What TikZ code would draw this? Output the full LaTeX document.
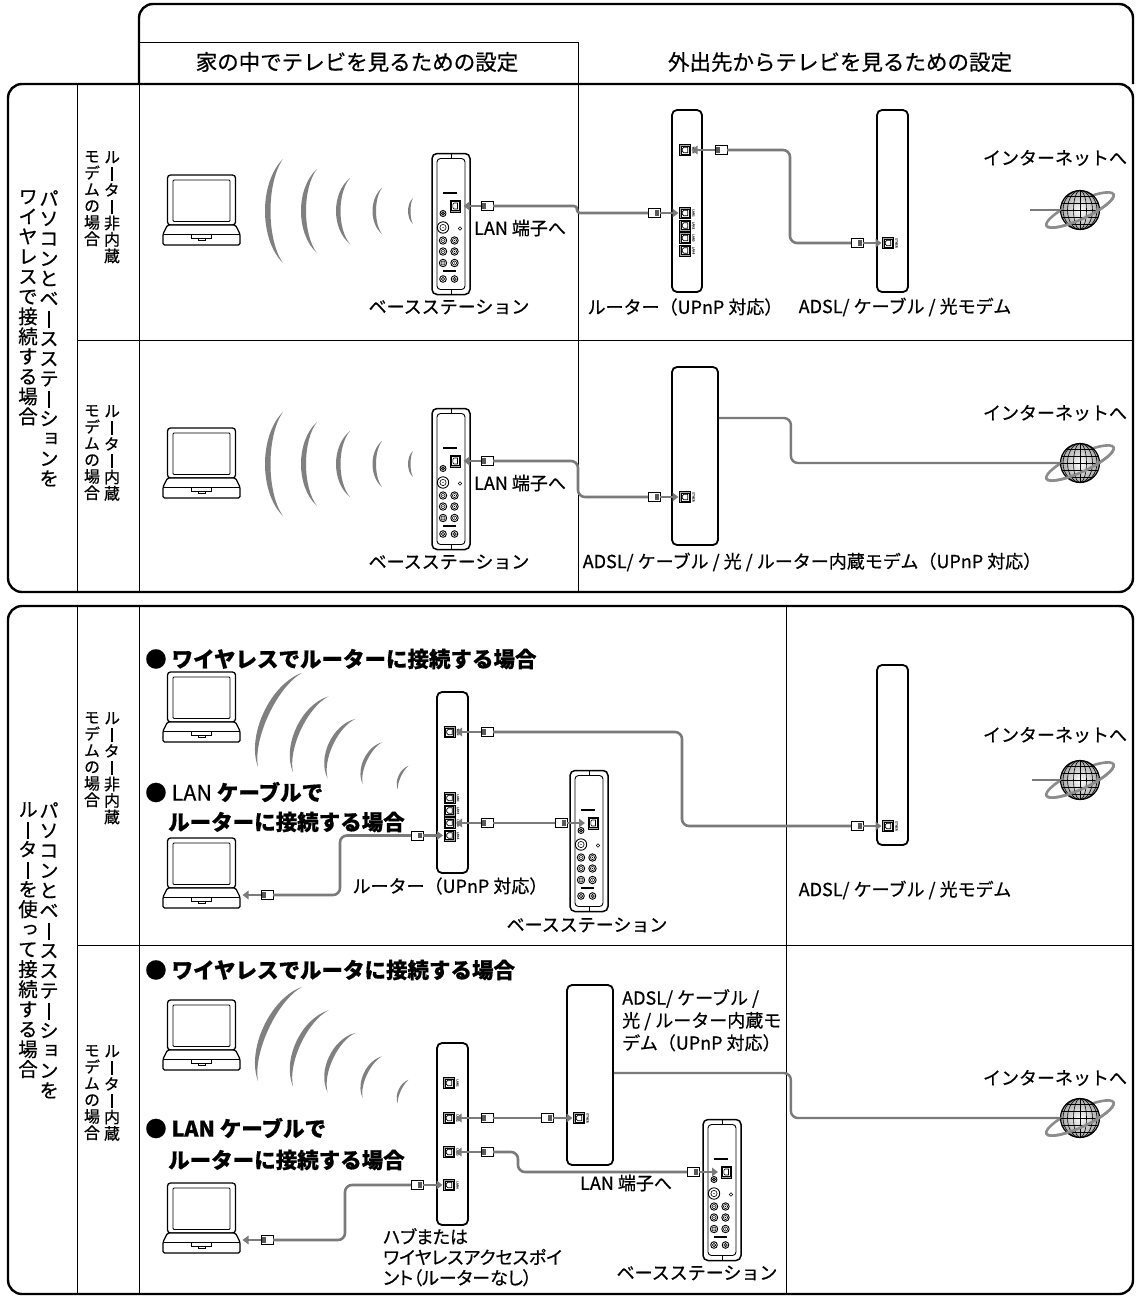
\documentclass[tikz,border=0pt]{standalone}
\usepackage{fontspec}
\setmainfont[FakeBold=0.6]{Noto Sans CJK JP}
\newfontfamily\jpv[RawFeature=+vert, FakeBold=0.6]{Noto Sans CJK JP}
\newfontfamily\jpp[RawFeature=+palt, FakeBold=0.6]{Noto Sans CJK JP}
\usetikzlibrary{arrows.meta}

\definecolor{cablegray}{gray}{0.48}
\definecolor{wavegray}{gray}{0.5}
\definecolor{ringgray}{gray}{0.55}

% upright long-vowel mark for vertical setting
\newcommand\vbar{\hbox to 1em{\hss\rule[-0.1em]{0.1em}{0.86em}\hss}}

% one character per line, for upright vertical labels
\ExplSyntaxOn
\NewDocumentCommand \vtxt { m }
  {
    \tl_clear:N \l_tmpa_tl
    \tl_map_inline:nn {#1}
      {
        \tl_if_empty:NF \l_tmpa_tl { \tl_put_right:Nn \l_tmpa_tl { \\ } }
        \str_if_eq:nnTF {##1} {ー}
          { \tl_put_right:Nn \l_tmpa_tl { \vbar } }
          { \tl_put_right:Nn \l_tmpa_tl {##1} }
      }
    \tl_use:N \l_tmpa_tl
  }
\ExplSyntaxOff

% a round jack on the base station
\newcommand\bsjack[3]{%
  \filldraw[fill=white, line width=0.9pt] (#1,#2) circle (#3);
  \draw[line width=0.6pt] (#1,#2) circle ({0.55*#3});
  \fill (#1,#2) circle (0.7);
}

\tikzset{
  frame/.style={line width=2.4pt, rounded corners=14pt},
  rule/.style={line width=0.9pt},
  lbl/.style={font=\fontsize{18}{22.5}\selectfont, inner sep=0pt},
  hdr/.style={font=\fontsize{21.5}{24}\selectfont, inner sep=0pt},
  head/.style={font=\bfseries\fontsize{21.5}{24}\selectfont, inner sep=0pt, anchor=west},
  vlab/.style={font=\jpv\fontsize{19.5}{20}\selectfont, align=center, inner sep=0pt, anchor=north},
  vsub/.style={font=\jpv\fontsize{16}{16.5}\selectfont, align=center, inner sep=0pt, anchor=north},
  devbox/.style={draw, line width=1.8pt, rounded corners=5pt, fill=white, inner sep=0pt},
  cable/.style={draw=cablegray, line width=2.6pt, rounded corners=7pt},
  wire/.style={draw=cablegray, line width=2.4pt, rounded corners=7pt},
  plugarrow/.style={draw=cablegray, line width=2.4pt, shorten >=1pt, -{Triangle[length=6pt,width=8.5pt]}},
  portlbl/.style={font=\fontsize{3}{3}\selectfont, inner sep=0pt, rotate=-90, text=black!70},
  % notebook computer, origin at its centre
  pics/laptop/.style={code={
    \draw[line width=1.3pt, rounded corners=3pt, fill=white] (-34,-35) rectangle (34,15);
    \draw[line width=0.9pt, rounded corners=1pt] (-28.5,-30) rectangle (28.5,11.5);
    \draw[line width=1.3pt, rounded corners=1.5pt, fill=white]
      (-34,15) -- (34,15) -- (38.5,24) -- (38.5,35) -- (-38.5,35) -- (-38.5,24) -- cycle;
    \draw[line width=0.8pt] (-38,24) -- (38,24);
    \draw[line width=0.8pt] (-10,24) rectangle (10,28);
    \draw[line width=0.8pt] (-3.5,28) rectangle (3.5,30.5);
    \coordinate (-e) at (40,22);
  }},
  % base station, origin at its top left corner
  pics/basestation/.style={code={
    \draw[line width=1.5pt, rounded corners=5pt, fill=white] (0,0) rectangle (38,141);
    \draw[line width=0.9pt, rounded corners=3.5pt] (5,5) rectangle (33,136);
    \draw[line width=0.9pt] (19,0) -- (19,5) (19,136) -- (19,141);
    \draw[line width=2pt] (11,39) -- (25,39);
    \filldraw[fill=black!35, line width=0.6pt] (18,46.5) rectangle (28.5,58.5);
    \filldraw[fill=white, line width=0.5pt] (19.5,48) rectangle (27,57);
    \draw[line width=0.6pt] (25.5,49.5) -- (22,49.5) -- (20.8,51) -- (20.8,54) -- (22,55.5) -- (25.5,55.5) -- cycle;
    \bsjack{11}{60}{3}
    \bsjack{11}{74}{5.7}
    \draw[line width=0.6pt] (28,75) circle (1.8);
    \bsjack{11}{87}{3.7}  \bsjack{22.5}{87}{3.7}
    \bsjack{11}{98}{3.7}  \bsjack{22.5}{98}{3.7}
    \bsjack{11}{109.5}{3.7} \bsjack{22.5}{109.5}{3.7}
    \draw[line width=2pt] (11,117.5) -- (24,117.5);
    \bsjack{11}{125.5}{3.3} \bsjack{22.5}{125.5}{3.3}
    \coordinate (-lane) at (30.5,52.5);
    \coordinate (-lanw) at (16,52.5);
  }},
  % RJ45 socket, origin at its centre
  pics/port/.style={code={
    \filldraw[fill=black!35, line width=0.6pt] (-5.5,-5.5) rectangle (5.5,5.5);
    \filldraw[fill=white, line width=0.5pt] (-4,-4) rectangle (4,4);
    \draw[line width=0.7pt] (2.8,-2.8) -- (-1,-2.8) -- (-2.8,-1) -- (-2.8,1) -- (-1,2.8) -- (2.8,2.8) -- cycle;
    \node[portlbl] at (8.5,0) {#1};
    \coordinate (-w) at (-5.5,0);
    \coordinate (-e) at (5.5,0);
  }},
  % cable plug; #1 = 1 dark end right, -1 dark end left
  pics/plug/.style={code={
    \filldraw[fill=white, line width=1pt] (-6,-4.5) rectangle (6,4.5);
    \fill[black!65] ({#1*1.2},-2.8) rectangle ({#1*4.6},2.8);
    \coordinate (-w) at (-6,0);
    \coordinate (-e) at (6,0);
  }},
  % radio wave crescent: half length, bulge, thickness
  pics/wave/.style n args={3}{code={
    \fill[wavegray] (0,-#1) .. controls ({-#2/0.75},{-0.55*#1}) and ({-#2/0.75},{0.55*#1}) .. (0,#1)
      .. controls ({-(#2-#3)/0.75},{0.55*#1}) and ({-(#2-#3)/0.75},{-0.55*#1}) .. (0,-#1) -- cycle;
  }},
  % globe with ring, origin at its centre
  pics/globe/.style={code={
    \draw[ringgray, line width=2.6pt, rotate=25] (0,0) ellipse [x radius=37, y radius=9];
    \shade[inner color=white, outer color=black!35] (0,0) circle (19.5);
    \begin{scope}
      \clip (0,0) circle (19.5);
      \draw[line width=0.6pt] (0,-20) -- (0,20);
      \foreach \r in {6.5,12.5,17}
        \draw[line width=0.6pt] (0,0) ellipse [x radius=\r, y radius=19.5];
      \foreach \yy in {-14,-7,0,7,14}
        \draw[line width=0.6pt] (-20,\yy) -- (20,\yy);
    \end{scope}
    \draw[line width=1.2pt] (0,0) circle (19.5);
    \draw[ringgray, line width=2.6pt, rotate=25] (37,0) arc [start angle=0, end angle=180, x radius=37, y radius=9];
    \coordinate (-w) at (-19.5,0);
  }},
}

\begin{document}
\begin{tikzpicture}[x=1pt,y=-1pt]
\useasboundingbox (0,0) rectangle (1136,1299);

% ---------- table frame ----------
\draw[frame] (139,84) -- (139,4) -- (1133,4) -- (1133,84);
\draw[frame] (8,84) rectangle (1133,592);
\draw[frame] (8,606) rectangle (1133,1294);

\draw[rule] (139,42) -- (578,42) -- (578,592);
\draw[rule] (139,84) -- (139,592);
\draw[rule] (77,84) -- (77,592);
\draw[rule] (77,340) -- (1133,340);
\draw[rule] (77,606) -- (77,1294);
\draw[rule] (139,606) -- (139,1294);
\draw[rule] (786,606) -- (786,1294);
\draw[rule] (77,945) -- (1133,945);

\node[hdr] (hin) at (357,62) {家の中でテレビを見るための設定};
\node[hdr] (hout) at (840,62) {外出先からテレビを見るための設定};

% ---------- row labels ----------
\node[vlab] (va1) at (49,190) {\vtxt{パソコンとベースステーションを}};
\node[vlab] (vb1) at (28,190) {\vtxt{ワイヤレスで接続する場合}};
\node[vsub] (sa11) at (112,151) {\vtxt{ルーター非内蔵}};
\node[vsub] (sb11) at (92,151) {\vtxt{モデムの場合}};
\node[vsub] (sa12) at (112,405) {\vtxt{ルーター内蔵}};
\node[vsub] (sb12) at (92,405) {\vtxt{モデムの場合}};

\node[vlab] (va2) at (49,802) {\vtxt{パソコンとベースステーションを}};
\node[vlab] (vb2) at (28,802) {\vtxt{ルーターを使って接続する場合}};
\node[vsub] (sa21) at (112,712) {\vtxt{ルーター非内蔵}};
\node[vsub] (sb21) at (92,712) {\vtxt{モデムの場合}};
\node[vsub] (sa22) at (112,1045) {\vtxt{ルーター内蔵}};
\node[vsub] (sb22) at (92,1045) {\vtxt{モデムの場合}};

% ========== wireless to base station, separate modem and router ==========
\pic (lap11) at (201.5,210) {laptop};
\foreach \dx/\h/\b/\t in {0/52/18/5.5, 34/42/16/5, 67/33/14/4.5, 99/23/9.5/3.5, 130/13/5/2.5}
  \pic at (283+\dx,211) {wave={\h}{\b}{\t}};
\pic (bs11) at (432,153.5) {basestation};
\node[devbox, minimum width=30, minimum height=182] (r11) at (687,201) {};
\pic (r11wan) at (685,150) {port=WAN};
\pic (r11l1) at (685,213) {port=LAN1};
\pic (r11l2) at (685,225.5) {port=LAN2};
\pic (r11l3) at (685,238) {port=LAN3};
\pic (r11l4) at (685,250.5) {port=LAN4};
\node[devbox, minimum width=31, minimum height=182] (m11) at (892.5,201) {};
\pic (m11p) at (888,243) {port=ETHER};

\pic (p11) at (487,206) {plug=-1};
\pic (p12) at (654,213) {plug=1};
\draw[cable, rounded corners=3pt] (p11-e) -- ++(84,0) |- (p12-w);
\draw[plugarrow] (p11-w) -- (bs11-lane);
\draw[plugarrow] (p12-e) -- (r11l1-w);

\pic (p13) at (721,150) {plug=-1};
\pic (p14) at (857,243) {plug=1};
\draw[cable] (p13-e) -- ++(63,0) |- (p14-w);
\draw[plugarrow] (p13-w) -- (r11wan-e);
\draw[plugarrow] (p14-e) -- (m11p-w);

\pic (g11) at (1080,210) {globe};
\coordinate (i11) at (1030,210);
\draw[wire] (i11) -- (g11-w);

\node[lbl] (t111) at (520,228) {LAN 端子へ};
\node[lbl] (t112) at (449,307) {ベースステーション};
\node[lbl] (t113) at (685,307) {ルーター（UPnP 対応）};
\node[lbl] (t114) at (905,307) {ADSL/ ケーブル / 光モデム};
\node[lbl] (t115) at (1055,158) {インターネットへ};

% ========== wireless to base station, modem with router ==========
\pic (lap12) at (201.5,463) {laptop};
\foreach \dx/\h/\b/\t in {0/52/18/5.5, 34/42/16/5, 67/33/14/4.5, 99/23/9.5/3.5, 130/13/5/2.5}
  \pic at (283+\dx,464) {wave={\h}{\b}{\t}};
\pic (bs12) at (432,408.5) {basestation};
\node[devbox, minimum width=46, minimum height=178] (m12) at (695,456) {};
\pic (m12p) at (685,497) {port=ETHER};

\pic (p21) at (487,461) {plug=-1};
\pic (p22) at (654,497) {plug=1};
\draw[cable] (p21-e) -- ++(85,0) |- (p22-w);
\draw[plugarrow] (p21-w) -- (bs12-lane);
\draw[plugarrow] (p22-e) -- (m12p-w);

\pic (g12) at (1080,463) {globe};
\draw[wire] (m12.east |- 0,418) -- ++(72,0) |- (g12-w);

\node[lbl] (t121) at (520,483) {LAN 端子へ};
\node[lbl] (t122) at (449,562) {ベースステーション};
\node[lbl] (t123) at (812,562) {ADSL/ ケーブル / 光 / ルーター内蔵モデム（UPnP 対応）};
\node[lbl] (t124) at (1055,413) {インターネットへ};

% ========== through a router, separate modem ==========
\node[head] (h211) at (145,659) {● ワイヤレスでルーターに接続する場合};
\pic (lap21) at (201.5,707) {laptop};
\foreach \s/\h/\b/\t in {0/52/18/5.5, 34/42/16/5, 68/33/14/4.5, 102/23/9.5/3.5, 136/13/5/2.5}
  \pic[rotate=-25] at ({280+\s*0.906},{720+\s*0.423}) {wave={\h}{\b}{\t}};
\node[head] (h212) at (145,792) {● {\mdseries LAN} ケーブルで};
\node[head] (h213) at (168,822) {ルーターに接続する場合};
\pic (lap22) at (201.5,873) {laptop};

\node[devbox, minimum width=31, minimum height=181] (r21) at (452.5,782.5) {};
\pic (r21wan) at (449.5,732) {port=WAN};
\pic (r21l1) at (449.5,798) {port=LAN1};
\pic (r21l2) at (449.5,810.5) {port=LAN2};
\pic (r21l3) at (449.5,823) {port=LAN3};
\pic (r21l4) at (449.5,835.5) {port=LAN4};
\node[devbox, minimum width=31, minimum height=180] (m21) at (892.5,755) {};
\pic (m21p) at (888,826) {port=ETHER};
\pic (bs21) at (570,770.5) {basestation};

\pic (p31) at (487,732) {plug=-1};
\pic (p32) at (857,826) {plug=1};
\draw[cable] (p31-e) -- ++(189,0) |- (p32-w);
\draw[plugarrow] (p31-w) -- (r21wan-e);
\draw[plugarrow] (p32-e) -- (m21p-w);

\pic (p33) at (487,823) {plug=-1};
\pic (p34) at (561,823) {plug=1};
\draw[cable] (p33-e) -- (p34-w);
\draw[plugarrow] (p33-w) -- (r21l3-e);
\draw[plugarrow] (p34-e) -- (bs21-lanw);

\pic (p35) at (267,895) {plug=-1};
\pic (p36) at (417,835.5) {plug=1};
\draw[cable] (p35-e) -- ++(67,0) |- (p36-w);
\draw[plugarrow] (p35-w) -- (lap22-e);
\draw[plugarrow] (p36-e) -- (r21l4-w);

\pic (g21) at (1080,780) {globe};
\coordinate (i21) at (1032,780);
\draw[wire] (i21) -- (g21-w);

\node[lbl] (t211) at (450,886) {ルーター（UPnP 対応）};
\node[lbl] (t212) at (587,925) {ベースステーション};
\node[lbl] (t213) at (905,890) {ADSL/ ケーブル / 光モデム};
\node[lbl] (t214) at (1055,735) {インターネットへ};

% ========== through a hub, modem with router ==========
\node[head] (h221) at (145,970) {● ワイヤレスでルータに接続する場合};
\pic (lap23) at (201.5,1035) {laptop};
\foreach \s/\h/\b/\t in {0/52/18/5.5, 34/42/16/5, 68/33/14/4.5, 102/23/9.5/3.5, 136/13/5/2.5}
  \pic[rotate=-25] at ({280+\s*0.906},{1034+\s*0.423}) {wave={\h}{\b}{\t}};
\node[head] (h222) at (145,1128) {● LAN ケーブルで};
\node[head] (h223) at (168,1160) {ルーターに接続する場合};
\pic (lap24) at (201.5,1218) {laptop};

\node[devbox, minimum width=31, minimum height=182] (h22) at (452.5,1134) {};
\pic (h22a) at (449,1083) {port=LAN1};
\pic (h22b) at (449,1118) {port=LAN2};
\pic (h22c) at (449,1152) {port=LAN3};
\pic (h22d) at (449,1185) {port=LAN4};
\node[devbox, minimum width=46, minimum height=180] (m22) at (590,1075) {};
\pic (m22p) at (579,1118) {port=ETHER};
\pic (bs22) at (703,1119.5) {basestation};

\pic (p41) at (487,1118) {plug=-1};
\pic (p42) at (547,1118) {plug=1};
\draw[cable] (p41-e) -- (p42-w);
\draw[plugarrow] (p41-w) -- (h22b-e);
\draw[plugarrow] (p42-e) -- (m22p-w);

\pic (p43) at (487,1152) {plug=-1};
\pic (p44) at (693,1172) {plug=1};
\draw[cable] (p43-e) -- ++(25,0) |- (p44-w);
\draw[plugarrow] (p43-w) -- (h22c-e);
\draw[plugarrow] (p44-e) -- (bs22-lanw);

\pic (p45) at (267,1240) {plug=-1};
\pic (p46) at (417,1185) {plug=1};
\draw[cable] (p45-e) -- ++(72,0) |- (p46-w);
\draw[plugarrow] (p45-w) -- (lap24-e);
\draw[plugarrow] (p46-e) -- (h22d-w);

\pic (g22) at (1080,1118) {globe};
\draw[wire] (m22.east |- 0,1073) -- ++(177,0) |- (g22-w);

\node[lbl, anchor=north west, align=left] (t221) at (622,989) {ADSL/ ケーブル /\\光 / ルーター内蔵モ\\デム（UPnP 対応）};
\node[lbl] (t222) at (1055,1078) {インターネットへ};
\node[lbl] (t223) at (626,1183) {LAN 端子へ};
\node[lbl] (t224) at (697,1273) {ベースステーション};
\node[lbl, anchor=north west, align=left, font=\jpp\fontsize{18}{20.5}\selectfont] (t225) at (383,1228) {ハブまたは\\ワイヤレスアクセスポイ\\ント（ルーターなし）};

\end{tikzpicture}
\end{document}
